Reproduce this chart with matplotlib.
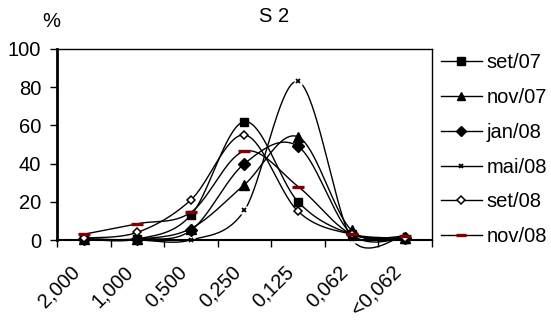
import matplotlib.pyplot as plt
import matplotlib.transforms as mtransforms
import numpy as np

plt.rcParams['font.family'] = ['Liberation Sans', 'DejaVu Sans']

categorias = ['2,000', '1,000', '0,500', '0,250', '0,125', '0,062', '<0,062']
series = ['set/07', 'nov/07', 'jan/08', 'mai/08', 'set/08', 'nov/08']
set07 = [0.5, 0.5, 13, 62, 20, 3, 0.5]
nov07 = [0.5, 0.5, 6, 29, 54, 5, 1]
jan08 = [0.5, 0.5, 5, 40, 49, 3, 1]
mai08 = [0.5, 0, 0, 15.5, 83, 0.5, 2.5]
set08 = [1, 4, 21, 55, 15, 3, 1]
nov08 = [3, 8.5, 14.5, 46.5, 28, 3, 2]
valores = [set07, nov07, jan08, mai08, set08, nov08]

estilos = [
    dict(marker='s', ms=6, mfc='black', mec='black'),
    dict(marker='^', ms=6.5, mfc='black', mec='black'),
    dict(marker='D', ms=6.5, mfc='black', mec='black'),
    dict(marker='x', ms=3.5, mfc='black', mec='black', mew=1.3),
    dict(marker='D', ms=4.5, mfc='white', mec='black', mew=1.1),
    dict(marker='_', ms=8, mfc='#800000', mec='#800000', mew=2.4),
]
FS = 14.5
# escala aproximada em pixels (largura de categoria, pixels por unidade em y)
PX, PY = 53.6, 1.91


def suaviza(x, y, n=40):
    # Bezier com tangentes limitadas a metade do segmento mais curto
    p = np.column_stack([np.asarray(x) * PX, np.asarray(y) * PY]).astype(float)
    m = len(p)
    ctrl = []
    for i in range(m):
        a = p[max(i - 1, 0)]
        b = p[min(i + 1, m - 1)]
        d02 = np.hypot(*(b - a))
        d01 = np.hypot(*(p[i] - a))
        d12 = np.hypot(*(b - p[i]))
        f = 1 / 6
        if d02 > 0:
            lim = [d / (2 * d02) for d in (d01, d12) if d > 0]
            if lim:
                f = min(f, min(lim))
        ctrl.append(f * (b - a))
    t = np.linspace(0, 1, n)[:, None]
    pts = []
    for i in range(m - 1):
        p0, p3 = p[i], p[i + 1]
        c1 = p0 + ctrl[i]
        c2 = p3 - ctrl[i + 1]
        pts.append((1 - t) ** 3 * p0 + 3 * (1 - t) ** 2 * t * c1
                   + 3 * (1 - t) * t ** 2 * c2 + t ** 3 * p3)
    pts = np.vstack(pts)
    return pts[:, 0] / PX, pts[:, 1] / PY


fig = plt.figure(figsize=(5.51, 3.2), dpi=100)
ax = fig.add_axes([0.1034, 0.25, 0.6806, 0.597])

x = np.arange(len(categorias))
handles = []
for nome, v, est in zip(series, valores, estilos):
    sx, sy = suaviza(x, v)
    ax.plot(sx, sy, color='black', lw=1.0, clip_on=False, zorder=2)
    if est['marker'] == 'x':
        ax.plot(x, v, ls='none', marker='s', ms=5.5, mfc='white', mec='none',
                clip_on=False, zorder=2.5)
    ax.plot(x, v, ls='none', clip_on=False, zorder=3, **est)
    h, = ax.plot([], [], color='black', lw=1.0,
                 **{k: (vv * 0.85 if k == 'ms' else vv) for k, vv in est.items()})
    h.set_label(nome)
    handles.append(h)

ax.set_xlim(-0.5, len(categorias) - 0.5)
ax.set_ylim(0, 100)
ax.set_yticks(range(0, 101, 20))
ax.set_xticks(np.arange(-0.5, len(categorias), 1))
ax.set_xticklabels([])
ax.tick_params(axis='x', direction='out', length=5, width=1)
ax.tick_params(axis='y', direction='out', length=5, width=1, labelsize=FS, pad=6.5)

# rótulos das categorias inclinados a 45 graus
base = mtransforms.blended_transform_factory(ax.transData, ax.transAxes)
desloc = mtransforms.ScaledTranslation(-7 / 100, -29 / 100, fig.dpi_scale_trans)
for xi, rot in zip(x, categorias):
    ax.text(xi, 0, rot, transform=base + desloc, rotation=45, ha='right',
            va='center', rotation_mode='anchor', fontsize=FS)

for s in ax.spines.values():
    s.set_linewidth(1)
ax.spines['left'].set_linewidth(2)
ax.spines['bottom'].set_linewidth(1.5)

fig.text(0.497, 0.948, 'S 2', ha='center', va='center', fontsize=FS)
fig.text(0.0926, 0.933, '%', ha='center', va='center', fontsize=FS)

fig.legend(handles=handles, loc='upper left', bbox_to_anchor=(0.80, 0.833),
           frameon=False, fontsize=FS, handlelength=2.03, handletextpad=0.26,
           labelspacing=0.78, borderaxespad=0, borderpad=0)

fig.savefig('out.png', dpi=100)
